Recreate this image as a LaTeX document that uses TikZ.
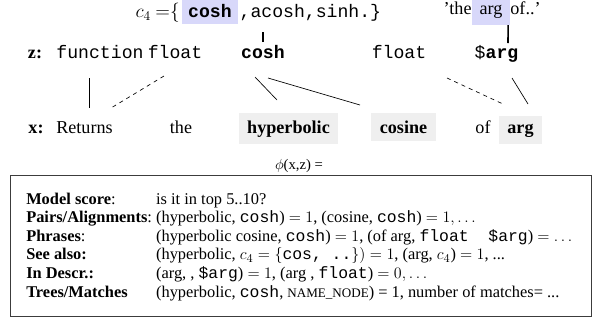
\documentclass[tikz,border=0pt]{standalone}
\usepackage{amsmath}
\usepackage{fontspec}
\setmainfont{Liberation Serif}
\setmonofont{Liberation Mono}
\usetikzlibrary{positioning,calc}

\newcommand{\wsize}{\fontsize{13.6}{16}\selectfont}
\newcommand{\fsize}{\fontsize{12.3}{13.95}\selectfont}

\tikzset{
  tok/.style={inner sep=0pt, anchor=base, font=\wsize},
  ttok/.style={tok, font=\wsize\ttfamily},
  hlbox/.style={tok, fill={rgb, 255:red, 216; green, 216; blue, 250}, inner xsep=4.5pt, inner ysep=4.7pt},
  wordbox/.style={tok, fill={rgb, 255:red, 239; green, 239; blue, 239}, inner xsep=6.5pt, inner ysep=5.5pt},
  link/.style={line width=0.5pt},
  dashlink/.style={line width=0.5pt, dash pattern=on 3pt off 3pt},
  uplink/.style={line width=1.2pt},
}

\begin{document}
\begin{tikzpicture}[x=0.75pt,y=0.75pt,yscale=-1,xscale=1]
\useasboundingbox (0,0) rectangle (593,326);

% Text Node: set c_4
\node[hlbox] (c4cosh) at (210,17.7) {\texttt{\textbf{cosh}}};
\node[tok, anchor=base east, inner xsep=1.5pt] (c4eq) at (c4cosh.base west) {$c_4$ ${=}\{$};
\node[ttok, anchor=base west, inner xsep=1pt] (c4rest) at (c4cosh.base east) {,acosh,sinh.\}};
% Text Node: description snippet
\node[hlbox, inner xsep=5.6pt] (qarg) at (491,14.7) {arg};
\node[tok, anchor=base east] (qthe) at (qarg.base west) {'the};
\node[tok, anchor=base west] (qof) at (qarg.base east) {of..'};

% Text Node: code tokens z
\node[tok] (zlab) at (35,58) {\textbf{z:}};
\node[ttok] (zfun) at (100,58) {function};
\node[ttok] (zflt) at (175,58) {float};
\node[ttok] (zcosh) at (263,58) {\textbf{cosh}};
\node[ttok] (zfltb) at (399,58) {float};
\node[ttok] (zarg) at (496.5,58) {\$\textbf{arg}};

% Text Node: words x
\node[tok] (xlab) at (36,133) {\textbf{x:}};
\node[tok] (xret) at (84.5,133) {Returns};
\node[tok] (xthe) at (181,133) {the};
\node[wordbox] (xhyp) at (288.5,133) {\textbf{hyperbolic}};
\node[wordbox] (xcos) at (403.5,133) {\textbf{cosine}};
\node[tok] (xof) at (483,133) {of};
\node[wordbox] (xarg) at (520.5,133) {\textbf{arg}};

%Straight Lines
\draw[uplink] ($(zcosh.base)+(0,-16)$) -- ($(c4cosh.base)+(53,14)$);
\draw[uplink] ($(zarg.base)+(11.5,-15)$) -- ($(qarg.south east)+(-2,0)$);
\draw[link] ($(zfun.base)+(-11,20)$) -- ($(xret.base)+(4.5,-25)$);
\draw[dashlink] ($(zflt.base)+(-11,18)$) -- ($(xret.base)+(26.5,-25)$);
\draw[link] ($(zcosh.base)+(-8,19)$) -- ($(xhyp.base)+(-11.5,-33)$);
\draw[link] ($(zcosh.base)+(5,20)$) -- ($(xcos.base)+(-43.5,-28)$);
\draw[dashlink] ($(zfltb.base)+(48,20)$) -- ($(xarg.base)+(-17.5,-29)$);
\draw[link] ($(zarg.base)+(15.5,20)$) -- ($(xarg.base)+(7.5,-29)$);

% Text Node
\node[tok, font=\fontsize{11}{13}\selectfont] (phi) at (299,169) {$\phi$(x,z) =};

%Shape: Rectangle
\node[draw={rgb, 255:red, 60; green, 60; blue, 60}, line width=0.7pt, inner sep=0pt,
  minimum width=435.75pt, minimum height=105.75pt] (frame) at (300.5,245.5) {};

% Text Node: feature list
\node[anchor=base west, inner sep=0pt, font=\fsize] (feats) at (26,204) {%
  \begin{tabular}[t]{@{}l@{\ }l@{}}
  \textbf{Model score}: & is it in top 5..10?\\
  \textbf{Pairs/Alignments}: & (hyperbolic, \texttt{cosh}) $= 1$, (cosine, \texttt{cosh}) $= 1, \ldots$\\
  \textbf{Phrases}: & (hyperbolic cosine, \texttt{cosh}) $= 1$, (of arg, \texttt{float\ \ \$arg}) $= \ldots$\\
  \textbf{See also:} & (hyperbolic, $c_4 = \{$\texttt{cos, ..}$\}) = 1$, (arg, $c_4$) $= 1$, ...\\
  \textbf{In Descr.:} & (arg, , \texttt{\$arg}) $= 1$, (arg , \texttt{float}) $= 0, \ldots$\\
  \textbf{Trees/Matches} & (hyperbolic, \texttt{cosh}, {\fontsize{9.8}{11}\selectfont NAME\_NODE}) = 1, number of matches= ...
  \end{tabular}};

\end{tikzpicture}
\end{document}
